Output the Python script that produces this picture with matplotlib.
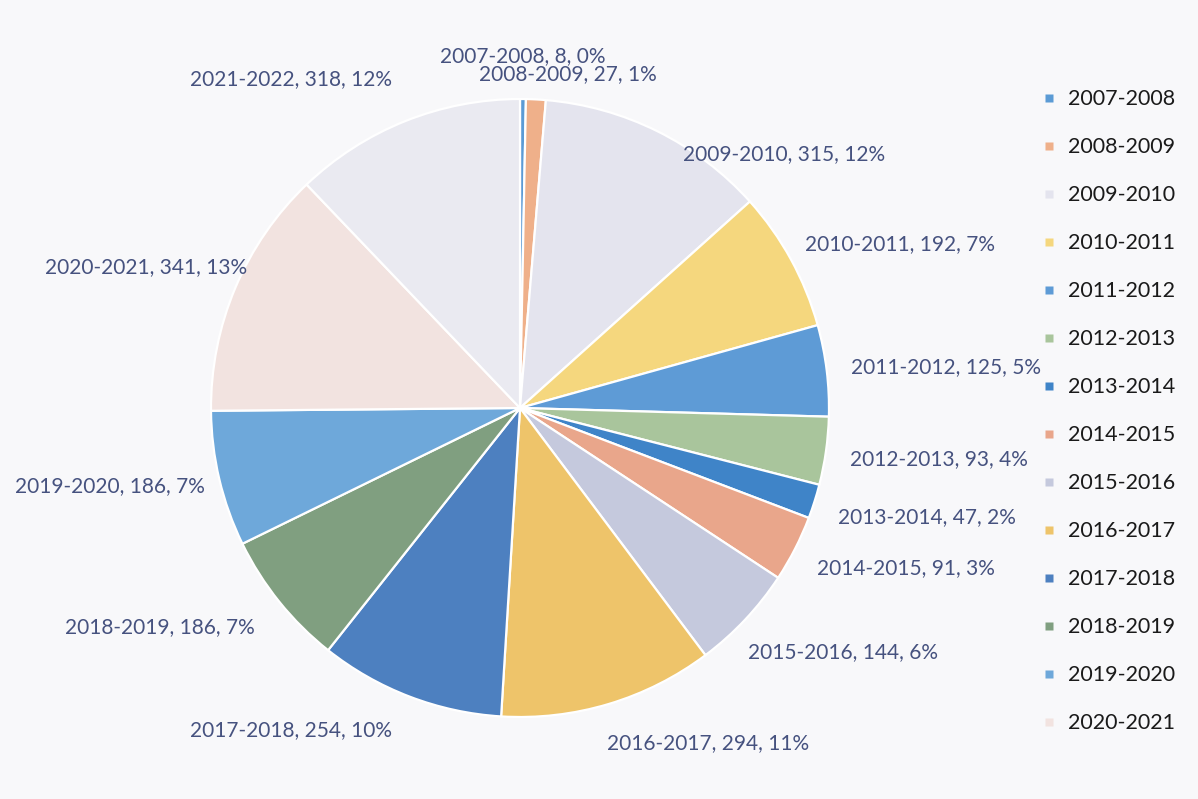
import numpy as np
import matplotlib
matplotlib.use("Agg")
import matplotlib.pyplot as plt
from matplotlib.lines import Line2D

# data
seasons = ["2007-2008", "2008-2009", "2009-2010", "2010-2011", "2011-2012",
           "2012-2013", "2013-2014", "2014-2015", "2015-2016", "2016-2017",
           "2017-2018", "2018-2019", "2019-2020", "2020-2021", "2021-2022"]
counts = [8, 27, 315, 192, 125, 93, 47, 91, 144, 294, 254, 186, 186, 341, 318]
pct_labels = ["0%", "1%", "12%", "7%", "5%", "4%", "2%", "3%", "6%", "11%",
              "10%", "7%", "7%", "13%", "12%"]

colors = ["#5b9bd5", "#efb08a", "#e4e4ee", "#f5d77e", "#5e9bd6",
          "#a9c59c", "#3f84c8", "#e9a68b", "#c5c9dd", "#eec46a",
          "#4d80c0", "#809f80", "#6ea8da", "#f2e3e0", "#eaeaf1"]

# label nudges in pixels (dx right, dy down)
LABEL_NUDGE = {
    0: (0, -8), 1: (31, 9), 2: (14, 55), 3: (-8, -3), 5: (0, 5),
    6: (0, 8), 7: (0, 8), 8: (-15, 16), 9: (-9, 5), 10: (-9, 0),
    11: (-5, 10), 12: (10, 1), 13: (35, -11), 14: (-4, -9),
}

plt.rcParams["font.family"] = ["Lato", "DejaVu Sans"]
LABEL_COLOR = "#46527f"

W, H = 1198, 799
fig = plt.figure(figsize=(W / 100, H / 100), dpi=100, facecolor="#f8f8fa")

cx, cy, R = 520, 408, 309
ax = fig.add_axes([(cx - R) / W, (H - cy - R) / H, 2 * R / W, 2 * R / H])

wedges, _ = ax.pie(counts, colors=colors, startangle=90, counterclock=False,
                   radius=1, wedgeprops=dict(edgecolor="white", linewidth=1.6))
# pie() resets the limits, so set them afterwards
ax.set_xlim(-1, 1)
ax.set_ylim(-1, 1)
ax.axis("off")

total = sum(counts)
cum = np.cumsum([0] + counts)
for i, (s, c, p) in enumerate(zip(seasons, counts, pct_labels)):
    theta = np.deg2rad((cum[i] + c / 2) / total * 360)
    sx, sy = np.sin(theta), np.cos(theta)
    x, y = 1.08 * sx, 1.08 * sy
    if abs(sx) < 0.1:
        ha = "center"
    else:
        ha = "left" if sx > 0 else "right"
    if sy > 0.8:
        va = "bottom"
    elif sy < -0.8:
        va = "top"
    else:
        va = "center"
    dx, dy = LABEL_NUDGE.get(i, (0, 0))
    ax.annotate(f"{s}, {c}, {p}", xy=(x, y), xytext=(dx * 0.72, -dy * 0.72),
                textcoords="offset points", ha=ha, va=va, fontsize=15,
                color=LABEL_COLOR, annotation_clip=False)

# legend only shows first 14 entries in the original
handles = [Line2D([], [], marker="s", linestyle="none", markersize=5.5,
                  markerfacecolor=colors[i], markeredgecolor="none")
           for i in range(14)]
fig.legend(handles, seasons[:14], loc="upper left",
           bbox_to_anchor=(1021 / W, 1 - 70 / H), frameon=False,
           fontsize=15.5, labelspacing=1.3, handlelength=0.8,
           handletextpad=0.5, labelcolor="#1a1a1a")

fig.savefig("out.png", dpi=100, facecolor=fig.get_facecolor())
